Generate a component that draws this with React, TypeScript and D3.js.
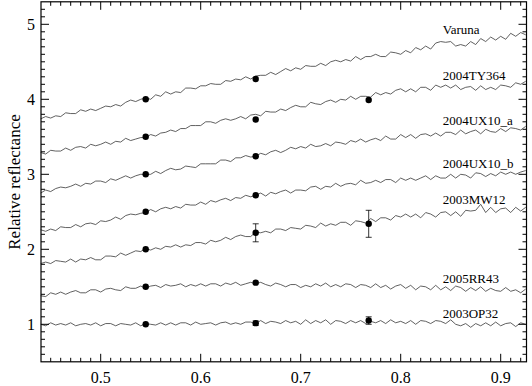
import { useMemo } from "react";
import * as d3 from "d3";

const WIDTH = 532;
const HEIGHT = 386;
const FONT = "'Liberation Serif', 'Times New Roman', serif";

// wavelength grid of the spectra (microns)
const wavelength = [
  0.44, 0.445, 0.45, 0.455, 0.46, 0.465, 0.47, 0.475, 0.48, 0.485,
  0.49, 0.495, 0.5, 0.505, 0.51, 0.515, 0.52, 0.525, 0.53, 0.535,
  0.54, 0.545, 0.55, 0.555, 0.56, 0.565, 0.57, 0.575, 0.58, 0.585,
  0.59, 0.595, 0.6, 0.605, 0.61, 0.615, 0.62, 0.625, 0.63, 0.635,
  0.64, 0.645, 0.65, 0.655, 0.66, 0.665, 0.67, 0.675, 0.68, 0.685,
  0.69, 0.695, 0.7, 0.705, 0.71, 0.715, 0.72, 0.725, 0.73, 0.735,
  0.74, 0.745, 0.75, 0.755, 0.76, 0.765, 0.77, 0.775, 0.78, 0.785,
  0.79, 0.795, 0.8, 0.805, 0.81, 0.815, 0.82, 0.825, 0.83, 0.835,
  0.84, 0.845, 0.85, 0.855, 0.86, 0.865, 0.87, 0.875, 0.88, 0.885,
  0.89, 0.895, 0.9, 0.905, 0.91, 0.915, 0.92, 0.925,
];

// relative reflectance, shifted by 0.5 per object
const varuna = [
  3.74, 3.77, 3.75, 3.78, 3.77, 3.82, 3.81, 3.81, 3.86, 3.84,
  3.87, 3.85, 3.88, 3.91, 3.9, 3.93, 3.91, 3.96, 3.99, 3.97,
  4.0, 4.02, 4.0, 4.06, 4.04, 4.1, 4.07, 4.1, 4.09, 4.15,
  4.15, 4.14, 4.18, 4.18, 4.21, 4.2, 4.2, 4.25, 4.24, 4.27,
  4.26, 4.3, 4.27, 4.31, 4.32, 4.32, 4.36, 4.33, 4.37, 4.41,
  4.38, 4.42, 4.4, 4.45, 4.44, 4.44, 4.48, 4.45, 4.5, 4.52,
  4.5, 4.53, 4.51, 4.57, 4.53, 4.57, 4.57, 4.6, 4.57, 4.57,
  4.63, 4.62, 4.6, 4.65, 4.62, 4.69, 4.66, 4.71, 4.67, 4.75,
  4.77, 4.76, 4.77, 4.71, 4.73, 4.71, 4.77, 4.73, 4.81, 4.77,
  4.83, 4.79, 4.84, 4.8, 4.88, 4.84, 4.89, 4.86,
];
const ty364 = [
  3.29, 3.27, 3.32, 3.31, 3.31, 3.35, 3.32, 3.36, 3.37, 3.35,
  3.4, 3.38, 3.4, 3.43, 3.4, 3.44, 3.43, 3.48, 3.45, 3.47,
  3.49, 3.49, 3.53, 3.51, 3.55, 3.56, 3.59, 3.57, 3.61, 3.61,
  3.65, 3.65, 3.65, 3.7, 3.7, 3.68, 3.72, 3.74, 3.72, 3.74,
  3.77, 3.74, 3.79, 3.8, 3.78, 3.84, 3.83, 3.83, 3.87, 3.85,
  3.89, 3.92, 3.9, 3.9, 3.96, 3.94, 3.93, 3.97, 3.99, 3.96,
  4.0, 3.99, 4.04, 4.0, 4.04, 4.04, 4.03, 4.09, 4.06, 4.09,
  4.07, 4.12, 4.14, 4.1, 4.14, 4.1, 4.16, 4.16, 4.12, 4.19,
  4.16, 4.19, 4.15, 4.19, 4.13, 4.16, 4.17, 4.12, 4.18, 4.13,
  4.16, 4.13, 4.19, 4.18, 4.16, 4.22, 4.2, 4.24,
];
const ux10a = [
  2.75, 2.79, 2.77, 2.81, 2.83, 2.82, 2.84, 2.87, 2.84, 2.88,
  2.87, 2.91, 2.91, 2.89, 2.94, 2.92, 2.95, 2.98, 2.95, 2.98,
  3.0, 3.0, 3.0, 3.04, 3.01, 3.05, 3.08, 3.06, 3.07, 3.11,
  3.1, 3.09, 3.14, 3.14, 3.14, 3.14, 3.19, 3.19, 3.17, 3.22,
  3.22, 3.25, 3.23, 3.24, 3.28, 3.26, 3.3, 3.32, 3.29, 3.32,
  3.36, 3.34, 3.37, 3.35, 3.4, 3.37, 3.38, 3.41, 3.38, 3.43,
  3.42, 3.4, 3.45, 3.43, 3.47, 3.43, 3.46, 3.48, 3.45, 3.51,
  3.47, 3.47, 3.53, 3.49, 3.53, 3.48, 3.53, 3.54, 3.51, 3.55,
  3.51, 3.56, 3.56, 3.53, 3.59, 3.54, 3.57, 3.59, 3.54, 3.6,
  3.57, 3.56, 3.61, 3.57, 3.62, 3.61, 3.59, 3.64,
];
const ux10b = [
  2.26, 2.24, 2.27, 2.25, 2.3, 2.29, 2.29, 2.33, 2.3, 2.34,
  2.35, 2.33, 2.38, 2.37, 2.39, 2.43, 2.4, 2.45, 2.47, 2.46,
  2.48, 2.49, 2.53, 2.5, 2.54, 2.56, 2.54, 2.57, 2.55, 2.6,
  2.59, 2.59, 2.63, 2.6, 2.65, 2.63, 2.66, 2.68, 2.65, 2.69,
  2.68, 2.72, 2.7, 2.72, 2.75, 2.71, 2.76, 2.74, 2.77, 2.79,
  2.75, 2.79, 2.79, 2.78, 2.83, 2.84, 2.8, 2.84, 2.83, 2.88,
  2.84, 2.87, 2.88, 2.86, 2.92, 2.88, 2.89, 2.92, 2.89, 2.93,
  2.93, 2.89, 2.95, 2.92, 2.95, 2.92, 2.95, 2.98, 2.93, 2.98,
  2.95, 2.95, 3.0, 2.95, 3.0, 2.99, 2.95, 3.02, 3.01, 2.97,
  3.01, 2.98, 3.03, 3.0, 3.03, 3.0, 3.03, 3.05,
];
const mw12 = [
  1.81, 1.83, 1.81, 1.85, 1.84, 1.83, 1.87, 1.83, 1.87, 1.86,
  1.89, 1.86, 1.86, 1.91, 1.91, 1.9, 1.95, 1.92, 1.95, 1.98,
  1.97, 2.01, 1.99, 2.02, 2.0, 2.04, 2.03, 2.06, 2.03, 2.06,
  2.05, 2.09, 2.09, 2.07, 2.12, 2.1, 2.12, 2.16, 2.13, 2.17,
  2.19, 2.17, 2.17, 2.23, 2.22, 2.24, 2.22, 2.27, 2.27, 2.25,
  2.29, 2.28, 2.27, 2.32, 2.31, 2.29, 2.35, 2.31, 2.34, 2.32,
  2.36, 2.36, 2.32, 2.38, 2.37, 2.35, 2.41, 2.37, 2.42, 2.42,
  2.39, 2.45, 2.43, 2.47, 2.43, 2.47, 2.42, 2.49, 2.47, 2.43,
  2.49, 2.5, 2.45, 2.5, 2.44, 2.52, 2.51, 2.52, 2.6, 2.49,
  2.56, 2.49, 2.54, 2.55, 2.49, 2.56, 2.51, 2.56,
];
const rr43 = [
  1.38, 1.37, 1.42, 1.4, 1.43, 1.4, 1.43, 1.45, 1.42, 1.42,
  1.46, 1.46, 1.43, 1.47, 1.48, 1.46, 1.45, 1.5, 1.48, 1.48,
  1.51, 1.48, 1.51, 1.52, 1.49, 1.53, 1.51, 1.52, 1.54, 1.5,
  1.53, 1.51, 1.54, 1.51, 1.54, 1.54, 1.51, 1.55, 1.53, 1.56,
  1.52, 1.54, 1.56, 1.54, 1.56, 1.53, 1.51, 1.55, 1.53, 1.5,
  1.53, 1.53, 1.49, 1.52, 1.5, 1.54, 1.51, 1.55, 1.5, 1.53,
  1.5, 1.54, 1.53, 1.49, 1.53, 1.52, 1.49, 1.54, 1.49, 1.52,
  1.47, 1.51, 1.53, 1.48, 1.52, 1.46, 1.51, 1.5, 1.46, 1.52,
  1.46, 1.5, 1.45, 1.51, 1.49, 1.44, 1.49, 1.45, 1.5, 1.44,
  1.48, 1.45, 1.44, 1.49, 1.44, 1.46, 1.42, 1.47,
];
const op32 = [
  1.0, 0.98, 1.02, 0.99, 1.01, 0.99, 1.02, 0.98, 1.0, 1.01,
  0.99, 1.02, 0.98, 1.01, 1.01, 0.98, 1.01, 1.0, 0.99, 1.02,
  0.98, 1.01, 1.0, 0.99, 1.02, 0.99, 1.02, 0.99, 1.02, 1.02,
  0.99, 1.03, 1.0, 1.01, 1.02, 0.99, 1.02, 1.03, 1.0, 1.02,
  1.0, 1.03, 1.03, 1.01, 1.05, 1.01, 1.04, 1.03, 1.01, 1.05,
  1.02, 1.04, 1.0, 1.06, 1.01, 1.05, 1.02, 1.06, 1.0, 1.05,
  1.04, 1.01, 1.05, 1.02, 1.05, 1.01, 1.04, 1.02, 1.05, 1.01,
  1.06, 1.02, 1.04, 1.01, 1.05, 1.0, 1.05, 1.04, 1.01, 1.05,
  1.04, 1.01, 1.06, 1.0, 0.98, 1.01, 0.96, 1.01, 0.98, 1.02,
  0.98, 1.03, 0.98, 1.01, 1.02, 0.97, 1.02, 1.0,
];

const names = ["Varuna", "2004TY364", "2004UX10_a", "2004UX10_b", "2003MW12", "2005RR43", "2003OP32"];

// broadband photometry (V, R, I)
const photWl = [0.545, 0.655, 0.768];
const photVaruna = [4.0, 4.27];
const photTy364 = [3.5, 3.73, 3.99];
const photUx10a = [3.0, 3.24];
const photUx10b = [2.5, 2.72];
const photMw12 = [2.0, 2.22, 2.34];
const photRr43 = [1.5, 1.555];
const photOp32 = [1.0, 1.015, 1.05];
const errMw12 = [0, 0.12, 0.18];
const errOp32 = [0, 0.03, 0.05];

const spectra = [varuna, ty364, ux10a, ux10b, mw12, rr43, op32];
const phots = [photVaruna, photTy364, photUx10a, photUx10b, photMw12, photRr43, photOp32];
const errs = [[], [], [], [], errMw12, [], errOp32];

const xMajor = [0.5, 0.6, 0.7, 0.8, 0.9];
const yMajor = [1, 2, 3, 4, 5];

const LEFT = 41;
const RIGHT = 526.5;
const TOP = 1.8;
const BOTTOM = 361.8;

export default function App() {
  const x = useMemo(() => d3.scaleLinear().domain([0.4403, 0.9258]).range([LEFT, RIGHT]), []);
  const y = useMemo(() => d3.scaleLinear().domain([0.5, 5.3]).range([BOTTOM, TOP]), []);

  const line = d3
    .line<number>()
    .x((_, i) => x(wavelength[i]))
    .y((d) => y(d));

  const xMinor = d3.range(45, 93).map((v) => v / 100).filter((v) => !xMajor.some((m) => Math.abs(m - v) < 1e-6));
  const yMinor = d3.range(6, 53).map((v) => v / 10).filter((v) => !yMajor.some((m) => Math.abs(m - v) < 1e-6));

  const labelX = 0.842;

  return (
    <svg
      width={WIDTH}
      height={HEIGHT}
      style={{ position: "absolute", left: 0, top: 0, background: "#fff" }}
      fontFamily={FONT}
    >
      {/* spectra */}
      {spectra.map((s, k) => (
        <path key={k} d={line(s) ?? ""} fill="none" stroke="#444" strokeWidth={0.85} strokeLinejoin="round" />
      ))}

      {/* photometry with error bars */}
      {phots.map((p, k) =>
        p.map((v, j) => {
          const e = errs[k][j] || 0;
          const cx = x(photWl[j]);
          return (
            <g key={`${k}-${j}`}>
              {e > 0 && (
                <g stroke="#000" strokeWidth={0.8}>
                  <line x1={cx} x2={cx} y1={y(v - e)} y2={y(v + e)} />
                  <line x1={cx - 3} x2={cx + 3} y1={y(v - e)} y2={y(v - e)} />
                  <line x1={cx - 3} x2={cx + 3} y1={y(v + e)} y2={y(v + e)} />
                </g>
              )}
              <circle cx={cx} cy={y(v)} r={3.2} fill="#000" />
            </g>
          );
        })
      )}

      {/* object labels, above each spectrum near the red end */}
      {names.map((n, k) => {
        const tail = spectra[k].filter((_, i) => wavelength[i] >= 0.84);
        const level = d3.mean(tail) ?? 0;
        return (
          <text key={n} x={x(labelX)} y={y(level + 0.085)} fontSize={13} fill="#000">
            {n}
          </text>
        );
      })}

      {/* frame */}
      <rect x={LEFT} y={TOP} width={RIGHT - LEFT} height={BOTTOM - TOP} fill="none" stroke="#000" strokeWidth={1.2} />

      {/* ticks on all sides */}
      <g stroke="#000" strokeWidth={1}>
        {xMajor.map((v) => (
          <g key={`xM${v}`}>
            <line x1={x(v)} x2={x(v)} y1={BOTTOM} y2={BOTTOM - 8} />
            <line x1={x(v)} x2={x(v)} y1={TOP} y2={TOP + 8} />
          </g>
        ))}
        {xMinor.map((v) => (
          <g key={`xm${v}`}>
            <line x1={x(v)} x2={x(v)} y1={BOTTOM} y2={BOTTOM - 4} />
            <line x1={x(v)} x2={x(v)} y1={TOP} y2={TOP + 4} />
          </g>
        ))}
        {yMajor.map((v) => (
          <g key={`yM${v}`}>
            <line x1={LEFT} x2={LEFT + 8} y1={y(v)} y2={y(v)} />
            <line x1={RIGHT} x2={RIGHT - 8} y1={y(v)} y2={y(v)} />
          </g>
        ))}
        {yMinor.map((v) => (
          <g key={`ym${v}`}>
            <line x1={LEFT} x2={LEFT + 4} y1={y(v)} y2={y(v)} />
            <line x1={RIGHT} x2={RIGHT - 4} y1={y(v)} y2={y(v)} />
          </g>
        ))}
      </g>

      {/* tick labels */}
      {xMajor.map((v) => (
        <text key={`xl${v}`} x={x(v)} y={383} textAnchor="middle" fontSize={16} fill="#000">
          {d3.format(".1f")(v)}
        </text>
      ))}
      {yMajor.map((v) => (
        <text key={`yl${v}`} x={35} y={y(v)} dy="0.35em" textAnchor="end" fontSize={16} fill="#000">
          {v}
        </text>
      ))}

      <text transform={`translate(20, 182) rotate(-90)`} textAnchor="middle" fontSize={17} fill="#000">
        Relative reflectance
      </text>
    </svg>
  );
}
